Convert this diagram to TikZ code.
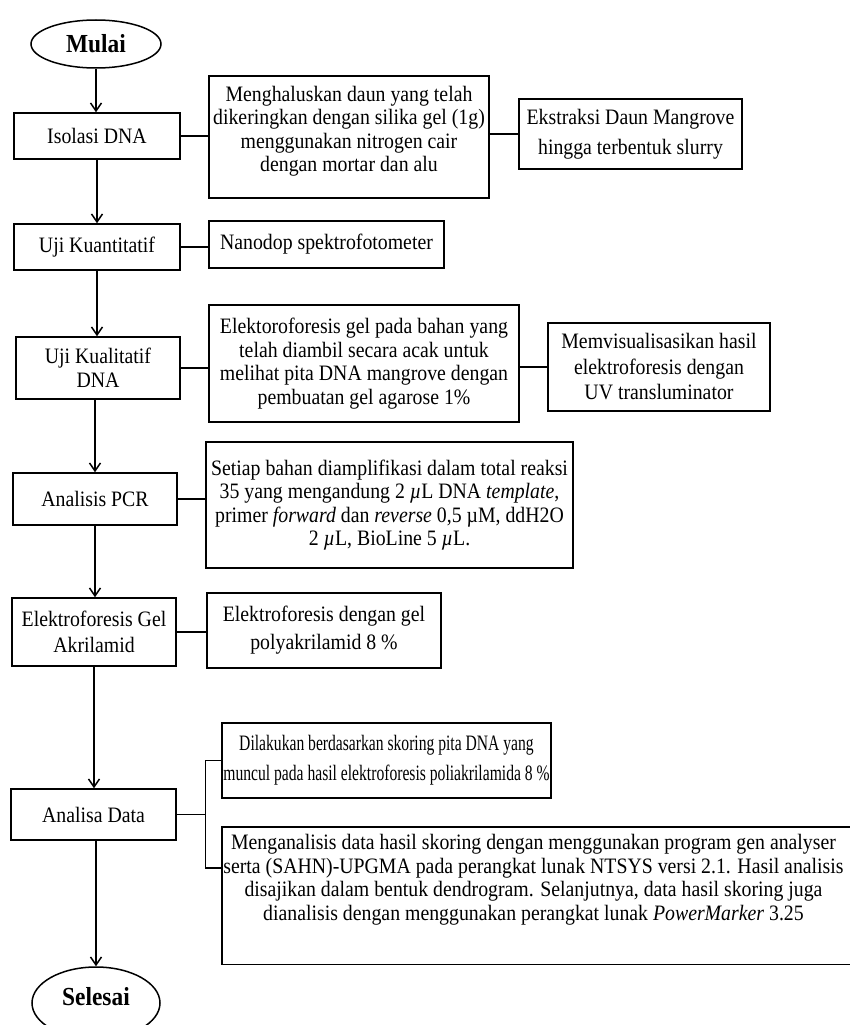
\documentclass[tikz,border=0pt]{standalone}
\usepackage{fontspec}
\setmainfont[FakeStretch=0.9]{Liberation Serif}
\newfontfamily\condensedfont[FakeStretch=0.71]{Liberation Serif}
\usetikzlibrary{arrows.meta,shapes.geometric}
\tikzset{
  box/.style={draw, line width=1.5pt, rectangle, inner sep=0pt, align=center,
    font=\fontsize{22}{23.5}\selectfont},
  term/.style={draw, line width=1.5pt, ellipse, inner sep=0pt,
    font=\fontsize{26}{28}\selectfont\bfseries},
  flow/.style={line width=1.5pt, -{Straight Barb[length=8pt,width=11pt]}},
  link/.style={line width=1.5pt},
}
\begin{document}
\begin{tikzpicture}[x=1pt,y=-1pt]
\useasboundingbox (0,0) rectangle (849,1025);
\fill[white] (0,0) rectangle (849,1025);

% left column
\node[term, minimum width=130, minimum height=48] (mulai) at (96,44) {Mulai};
\node[box, minimum width=166, minimum height=46] (iso) at (97,136) {Isolasi DNA};
\node[box, minimum width=166, minimum height=46] (kuan) at (97,247) {Uji Kuantitatif};
\node[box, minimum width=164, minimum height=62] (kual) at (98,368) {Uji Kualitatif\\DNA};
\node[box, minimum width=164, minimum height=52] (pcr) at (95,499) {Analisis PCR};
\node[box, minimum width=164, minimum height=68, font=\fontsize{22}{26}\selectfont] (gel) at (94,632) {Elektroforesis Gel\\Akrilamid};
\node[box, minimum width=165, minimum height=51] (ana) at (93.5,814.5) {Analisa Data};
\node[term, minimum width=128, minimum height=72] (sel) at (96,1003) {\raisebox{6pt}[\height][\depth]{Selesai}};

% right column
\node[box, minimum width=280, minimum height=122] (m1) at (349,137)
  {\raisebox{5pt}[\height][\depth]{\begin{tabular}{@{}c@{}}Menghaluskan daun yang telah\\dikeringkan dengan silika gel (1g)\\menggunakan nitrogen cair\\dengan mortar dan alu\end{tabular}}};
\node[box, minimum width=223, minimum height=70, font=\fontsize{22}{30}\selectfont] (ek) at (630.5,134)
  {Ekstraksi Daun Mangrove\\hingga terbentuk slurry};
\node[box, minimum width=235, minimum height=47] (nano) at (326.5,244.5)
  {Nanodop spektrofotometer};
\node[box, minimum width=310, minimum height=117] (el) at (364,363.5)
  {Elektoroforesis gel pada bahan yang\\telah diambil secara acak untuk\\melihat pita DNA mangrove dengan\\pembuatan gel agarose 1\%};
\node[box, minimum width=222, minimum height=88, font=\fontsize{22}{25.5}\selectfont] (mem) at (659,367)
  {Memvisualisasikan hasil\\elektroforesis dengan\\UV transluminator};
\node[box, minimum width=367, minimum height=126] (setiap) at (389.5,505)
  {Setiap bahan diamplifikasi dalam total reaksi\\35 yang mengandung 2 \textit{µ}L DNA \textit{template},\\primer \textit{forward} dan \textit{reverse} 0,5 µM, ddH2O\\2 \textit{µ}L, BioLine 5 \textit{µ}L.};
\node[box, minimum width=234, minimum height=75, font=\fontsize{22}{28}\selectfont] (egel) at (324,630.5)
  {Elektroforesis dengan gel\\polyakrilamid 8 \%};
\node[box, minimum width=329, minimum height=75, font=\fontsize{22}{30}\condensedfont] (dil) at (386.5,760.5)
  {Dilakukan berdasarkan skoring pita DNA yang\\muncul pada hasil elektroforesis poliakrilamida 8 \%};
\node[box, draw=none, minimum width=660, minimum height=136] (meng) at (552.5,895.5)
  {\raisebox{15pt}[\height][\depth]{\begin{tabular}{@{}c@{}}Menganalisis data hasil skoring dengan menggunakan program gen analyser\\serta (SAHN)-UPGMA pada perangkat lunak NTSYS versi 2.1. Hasil analisis\\disajikan dalam bentuk dendrogram. Selanjutnya, data hasil skoring juga\\dianalisis dengan menggunakan perangkat lunak \textit{PowerMarker} 3.25\end{tabular}}\hspace*{38pt}};
% frame of the last box, cut by the page edge on the right
\draw[link] (meng.north east) -- (meng.north west) -- (meng.south west) -- (meng.south east);

% main flow
\draw[flow] (mulai.south) -- (mulai.south |- iso.north);
\draw[flow] (iso.south) -- (iso.south |- kuan.north);
\draw[flow] (kuan.south) -- (kuan.south |- kual.north);
\draw[flow] (pcr.north |- kual.south) -- (pcr.north);
\draw[flow] (pcr.south) -- (pcr.south |- gel.north);
\draw[flow] (gel.south) -- (gel.south |- ana.north);
\draw[flow] (sel.north |- ana.south) -- (sel.north);

% side links
\draw[link] (iso.east) -- (iso.east -| m1.west);
\draw[link] (ek.west -| m1.east) -- (ek.west);
\draw[link] (kuan.east) -- (kuan.east -| nano.west);
\draw[link] (kual.east) -- (kual.east -| el.west);
\draw[link] (mem.west -| el.east) -- (mem.west);
\draw[link] (pcr.east) -- (pcr.east -| setiap.west);
\draw[link] (gel.east) -- (gel.east -| egel.west);

% bracket for Analisa Data
\path (ana.east) ++(28.5,0) coordinate (bj);
\coordinate (mj) at ([yshift=-41pt]meng.north west);
\draw[link] (ana.east) -- (bj);
\draw[link] (dil.west) -- (dil.west -| bj) -- (mj -| bj) -- (mj);
\end{tikzpicture}
\end{document}
